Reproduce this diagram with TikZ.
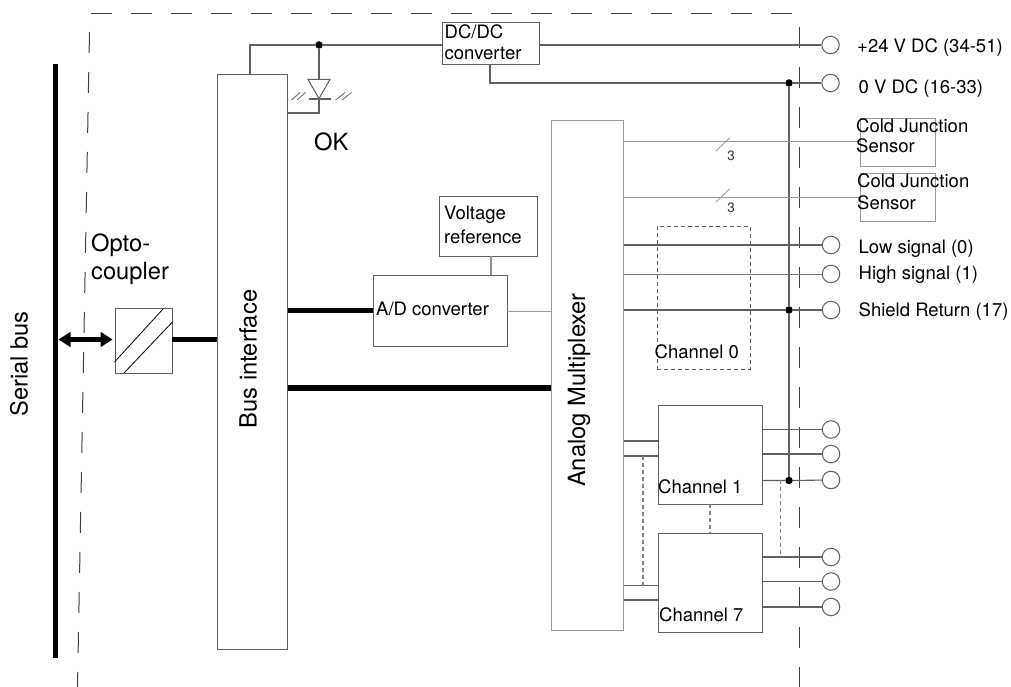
\documentclass[tikz,border=0pt]{standalone}
\usepackage{fontspec}
\setmainfont{TeX Gyre Heros}
\usetikzlibrary{arrows.meta}
\definecolor{ln}{HTML}{606060}
\definecolor{lg}{HTML}{9A9A9A}
\newcommand{\boxat}[6][ln]{\node[blk,draw=#1,minimum width=#4pt,minimum height=#5pt] (#2) at (#3) {#6};}
\tikzset{
 blk/.style={rectangle,inner sep=0pt,line width=.9pt},
 wire/.style={draw=ln,line width=1.1pt},
 fine/.style={draw=lg,line width=1pt},
 thin wire/.style={draw=ln,line width=.8pt},
 fat/.style={draw=black,line width=5.6pt},
 dashwire/.style={draw=ln!80,line width=1.2pt,dash pattern=on 4pt off 3pt},
 border/.style={draw=black!75,line width=1pt,dash pattern=on 21pt off 19pt},
 term/.style={circle,draw=ln,fill=white,line width=1pt,minimum size=17.5pt,inner sep=0pt},
 dot/.style={circle,fill=black,minimum size=7.5pt,inner sep=0pt},
 big/.style={font=\fontsize{23.7}{28}\selectfont,inner sep=0pt,text=black},
 lab/.style={font=\fontsize{18.5}{21}\selectfont,inner sep=0pt,anchor=base west,text=black},
 small/.style={font=\fontsize{13.5}{15}\selectfont,inner sep=0pt,anchor=base,text=black!80},
}
\begin{document}
\begin{tikzpicture}[x=1pt,y=-1pt]
\fill[white] (0,0) rectangle (1011,687);
\useasboundingbox (0,0) rectangle (1011,687);
% isolation border
\coordinate (ba) at (90.5,13.5); \coordinate (bb) at (794,13.5);
\coordinate (bc) at (89.5,32); \coordinate (bd) at (77.5,687);
\coordinate (be) at (799.6,27); \coordinate (bf) at (799.6,687);
\draw[border] (ba) -- (bb);
\draw[border] (bc) -- (bd);
\draw[border] (be) -- (bf);
% boxes
\node[rectangle,fill=black,minimum width=5.6pt,minimum height=594pt,inner sep=0pt] (bar) at (55.5,361) {};
\boxat{opto}{143.5,340.5}{57}{65}{}
\boxat{bus}{252.8,361.5}{70}{575}{}
\boxat{dc}{490.5,43}{97}{42}{}
\boxat{ad}{440,310.5}{134}{71}{}
\boxat{vref}{488,226}{98}{60}{}
\boxat[lg]{mux}{587.3,375}{72.5}{510}{}
\boxat[lg]{cj1}{897.7,142}{75.5}{48}{}
\boxat[lg]{cj2}{897.7,197}{75.5}{48}{}
\boxat{ch1}{710,454.5}{104}{99}{}
\boxat{ch7}{710,582.5}{104}{99}{}
\node[rectangle,draw=ln,line width=1pt,dash pattern=on 4pt off 3pt,minimum width=93pt,minimum height=143pt,inner sep=0pt] (ch0) at (703.5,297.5) {};
% terminals
\node[term] (t1) at (830.5,45) {};
\node[term] (t2) at (830.5,83) {};
\node[term] (t3) at (831,245) {};
\node[term] (t4) at (831,274) {};
\node[term] (t5) at (831,310) {};
\node[term] (t6) at (831,429.5) {};
\node[term] (t7) at (831,454) {};
\node[term] (t8) at (831,480) {};
\node[term] (t9) at (831,557) {};
\node[term] (t10) at (831,581.5) {};
\node[term] (t11) at (831,607) {};
% junctions
\node[dot] (j1) at (319,45) {};
\node[dot] (j2) at (789,83) {};
\node[dot] (j3) at (789,310) {};
\node[dot] (j4) at (789,480.5) {};
% fat buses
\draw[fat,line width=4.6pt,{Triangle[length=12pt,width=14.5pt]}-{Triangle[length=12pt,width=14.5pt]}] ([yshift=1pt]bar.east |- opto.west) -- ([xshift=-2pt,yshift=1pt]opto.west);
\draw[fat] ([yshift=1pt]opto.east) -- ([yshift=1pt]bus.west |- opto.east);
\draw[fat] (bus.east |- ad.west) -- (ad.west);
\coordinate (m1) at (mux.west |- 0,388);
\coordinate (b1) at (bus.east |- 0,388);
\draw[fat] (b1) -- (m1);
% power
\coordinate (c1) at (250,45);
\draw[wire] (bus.north -| c1) -- (c1) -- (j1) -- (dc.west |- j1);
\coordinate (c2) at (490,83);
\draw[wire] (dc.east |- t1) -- (t1);
\draw[wire] (dc.south -| c2) -- (c2) -- (j2) -- (t2);
\draw[draw=ln,line width=1.5pt] (j2) -- (j3) -- (j4);
% LED
\coordinate (d1) at (319,113);
\coordinate (dt1) at (308,79.5); \coordinate (dt2) at (330,79.5); \coordinate (dt3) at (319,98.5);
\coordinate (db1) at (308.5,99); \coordinate (db2) at (331,99);
\draw[wire] (j1) -- (dt3 |- dt1);
\draw[wire] (dt3) -- (d1) -- (bus.east |- d1);
\draw[thin wire,line width=1pt,fill=white] (dt1) -- (dt2) -- (dt3) -- cycle;
\draw[wire] (db1) -- (db2);
\draw[thin wire] (291.5,100) -- (300,92.5) (297,100) -- (305.5,92.5);
\draw[thin wire] (335.5,100) -- (345,92.5) (342,100) -- (351.5,92.5);
% signals
\draw[fine] (mux.east |- cj1.west) -- (cj1.west);
\draw[fine] (mux.east |- cj2.west) -- (cj2.west);
\draw[thin wire,draw=lg] (716,151) -- (729.5,138);
\draw[thin wire,draw=lg] (716,202) -- (729.5,189);
\draw[wire] (mux.east |- t3) -- (t3);
\draw[thin wire,draw=lg!80!black] (mux.east |- t4) -- (t4);
\draw[wire] (mux.east |- j3) -- (j3) -- (t5);
\draw[fine] (ad.east |- 0,311) -- (mux.west |- 0,311);
\draw[wire,draw=ln!70] (vref.south -| 491,0) -- (ad.north -| 491,0);
% channels
\draw[wire] (mux.east |- 0,441) -- (ch1.west |- 0,441);
\draw[wire] (mux.east |- 0,456) -- (ch1.west |- 0,456);
\draw[wire] (mux.east |- 0,585.5) -- (ch7.west |- 0,585.5);
\draw[wire] (mux.east |- 0,600) -- (ch7.west |- 0,600);
\draw[dashwire] (643,456) -- (643,586);
\draw[dashwire] (ch1.south) -- (ch7.north);
\draw[wire] (ch1.east |- t6) -- (t6);
\draw[wire] (ch1.east |- t7) -- (t7);
\draw[wire] (ch1.east |- j4) -- (j4) -- (t8);
\draw[wire] (ch7.east |- t9) -- (t9);
\draw[wire,line width=1.4pt] (ch7.east |- t10) -- (t10);
\draw[wire,line width=1.4pt] (ch7.east |- t11) -- (t11);
\draw[dashwire] (780.5,480) -- (780.5,557);
\draw[draw=black,line width=.8pt] (opto.west |- 0,362) -- (163,309);
\draw[draw=black,line width=.8pt] (124,373) -- (opto.east |- 0,322);
% labels
\node[big,rotate=90] (lsb) at (19,364) {Serial bus};
\node[big,rotate=90] (lbi) at (248,359) {Bus interface};
\node[big,rotate=90] (lam) at (579,390) {Analog Multiplexer};
\node[big,anchor=base west] (lop) at (91,251) {Opto-};
\node[big,anchor=base west] (lco) at (91,279) {coupler};
\node[big,anchor=base west] (lok) at (314,151) {OK};
\node[lab] (ldc1) at (444.5,39) {DC/DC};
\node[lab] (ldc2) at (444.5,60) {converter};
\node[lab] (lad) at (376,315) {A/D converter};
\node[lab] (lv1) at (444,219) {Voltage};
\node[lab] (lv2) at (444,243) {reference};
\node[lab] (lp1) at (857,52.5) {+24 V DC (34-51)};
\node[lab] (lp2) at (858.5,94) {0 V DC (16-33)};
\node[lab] (lcj1) at (856,133) {Cold Junction};
\node[lab] (lcj2) at (856,153) {Sensor};
\node[lab] (lcj3) at (857,187) {Cold Junction};
\node[lab] (lcj4) at (857,209) {Sensor};
\node[lab] (ls1) at (858.5,253) {Low signal (0)};
\node[lab] (ls2) at (858.5,279) {High signal (1)};
\node[lab] (ls3) at (858.5,316) {Shield Return (17)};
\node[lab] (lc0) at (654.5,358) {Channel 0};
\node[lab] (lc1) at (658,493) {Channel 1};
\node[lab] (lc7) at (659,621) {Channel 7};
\node[small] (ln1) at (731,160.5) {3};
\node[small] (ln2) at (731,212.5) {3};
\end{tikzpicture}
\end{document}
